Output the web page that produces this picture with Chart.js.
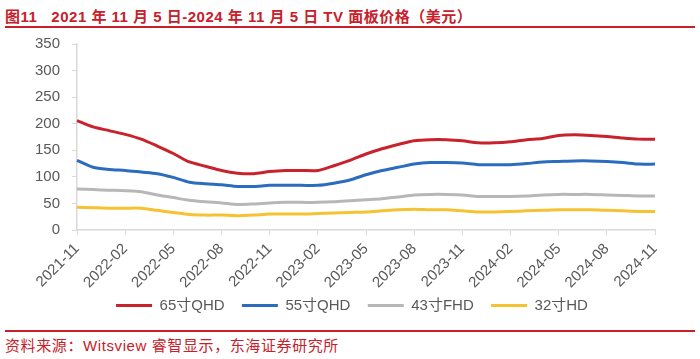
<!DOCTYPE html>
<html>
<head>
<meta charset="utf-8">
<script src="https://cdn.jsdelivr.net/npm/chart.js@4.4.1/dist/chart.umd.min.js"></script>
<style>
  body { margin: 0; width: 700px; height: 359px; background: #fff; position: relative; overflow: hidden;
         font-family: 'Liberation Sans', 'Noto Sans CJK SC', sans-serif; }
  .title { position: absolute; left: 5px; top: 5px; font-size: 15px; font-weight: bold; color: #c8202a;
           white-space: pre; letter-spacing: 0.5px; }
  .rule { position: absolute; left: 5px; right: 5px; height: 0; border-top: 2px solid #c8202a; }
  .source { position: absolute; left: 5px; top: 334px; font-size: 15px; color: #c8202a; white-space: pre;
            letter-spacing: 0.6px; }
  #wrap { position: absolute; left: 0; top: 23px; width: 700px; height: 300px; }
</style>
</head>
<body>
<div class="title">图11   2021 年 11 月 5 日-2024 年 11 月 5 日 TV 面板价格（美元）</div>
<div class="rule" style="top:26px"></div>
<div id="wrap"><canvas id="c"></canvas></div>
<div class="rule" style="top:330px"></div>
<div class="source">资料来源：Witsview 睿智显示，东海证券研究所</div>

<script>
// ── Data (USD, monthly, 2021-11 .. 2024-11) ───────────────────────
const MONTHS = [
  '2021-11', '2021-12',
  '2022-01', '2022-02', '2022-03', '2022-04', '2022-05', '2022-06',
  '2022-07', '2022-08', '2022-09', '2022-10', '2022-11', '2022-12',
  '2023-01', '2023-02', '2023-03', '2023-04', '2023-05', '2023-06',
  '2023-07', '2023-08', '2023-09', '2023-10', '2023-11', '2023-12',
  '2024-01', '2024-02', '2024-03', '2024-04', '2024-05', '2024-06',
  '2024-07', '2024-08', '2024-09', '2024-10', '2024-11',
];

const QHD65 = [
  206, 194, 187, 180, 171, 158, 144, 128, 120, 112, 107, 106, 110,
  112, 112, 112, 121, 131, 143, 153, 161, 168, 170, 170, 168, 164,
  164, 166, 170, 172, 178, 179, 178, 176, 173, 171, 171,
];
const QHD55 = [
  131, 118, 114, 112, 109, 106, 99, 90, 87, 85, 82, 82, 84,
  84, 84, 84, 88, 94, 104, 112, 118, 124, 127, 127, 126, 123,
  123, 123, 125, 128, 129, 130, 130, 129, 127, 124, 124,
];
const FHD43 = [
  77, 76, 75, 74, 72, 66, 61, 56, 53, 51, 48, 49, 51,
  52, 52, 52, 53, 55, 57, 59, 62, 66, 67, 67, 66, 63,
  63, 63, 64, 66, 67, 67, 67, 66, 65, 64, 64,
];
const HD32 = [
  43, 42, 41, 41, 41, 37, 33, 29, 28, 28, 27, 28, 30,
  30, 30, 31, 32, 33, 34, 36, 38, 39, 38, 38, 36, 34,
  34, 35, 36, 37, 38, 38, 38, 37, 36, 35, 35,
];

const SERIES = [
  { label: '65寸QHD', data: QHD65, color: '#c8232c' },
  { label: '55寸QHD', data: QHD55, color: '#2b6cbf' },
  { label: '43寸FHD', data: FHD43, color: '#b7b7b7' },
  { label: '32寸HD',  data: HD32,  color: '#f6c232' },
];

const AXIS_COLOR = '#d9d9d9';
const TEXT_COLOR = '#595959';
const FONT = "'Liberation Sans', 'Noto Sans CJK SC', sans-serif";

Chart.defaults.font.family = FONT;
Chart.defaults.color = TEXT_COLOR;

new Chart(document.getElementById('c'), {
  type: 'line',
  data: {
    labels: MONTHS,
    datasets: SERIES.map(s => ({
      label: s.label,
      data: s.data,
      borderColor: s.color,
      backgroundColor: s.color,
      borderWidth: 3,
      pointRadius: 0,
      tension: 0.25,
      fill: false,
    })),
  },
  options: {
    responsive: true,
    maintainAspectRatio: false,
    animation: false,
    layout: { padding: { top: 13, right: 0, left: 4, bottom: 0 } },
    plugins: {
      tooltip: { enabled: false },
      legend: {
        position: 'bottom',
        labels: {
          boxWidth: 36,
          boxHeight: 3,
          padding: 9,
          color: TEXT_COLOR,
          font: { size: 15 },
          // trailing spaces widen the gap between items without growing the legend height
          generateLabels: chart => chart.data.datasets.map((ds, i, all) => ({
            text: ds.label + (i < all.length - 1 ? '  ' : ''),
            fillStyle: ds.borderColor,
            strokeStyle: ds.borderColor,
            lineWidth: 0,
            fontColor: TEXT_COLOR,
            datasetIndex: i,
          })),
        },
      },
    },
    scales: {
      x: {
        type: 'category',
        offset: false,
        afterFit: s => { s.height = 59; },
        grid: {
          drawOnChartArea: false,
          drawTicks: true,
          tickLength: 5,
          color: ctx => (ctx.index % 3 === 0 ? AXIS_COLOR : 'rgba(0,0,0,0)'),
        },
        border: { display: true, color: AXIS_COLOR, width: 1.5 },
        ticks: {
          autoSkip: false,
          minRotation: 45,
          maxRotation: 45,
          padding: 5,
          color: TEXT_COLOR,
          font: { size: 15 },
          callback: (v, i) => (i % 3 === 0 ? MONTHS[i] : ''),
        },
      },
      y: {
        min: 0,
        max: 350,
        afterFit: s => { s.width = 73; },
        grid: { drawOnChartArea: false, drawTicks: true, tickLength: 5, color: AXIS_COLOR },
        border: { display: true, color: AXIS_COLOR, width: 1.5 },
        ticks: { stepSize: 50, padding: 12, color: TEXT_COLOR, font: { size: 15 } },
      },
      // empty right-hand spacer so the plot ends at x≈655
      spacer: {
        type: 'linear',
        position: 'right',
        afterFit: s => { s.width = 45; },
        grid: { display: false },
        border: { display: false },
        ticks: { display: false },
      },
    },
  },
});
</script>
</body>
</html>
